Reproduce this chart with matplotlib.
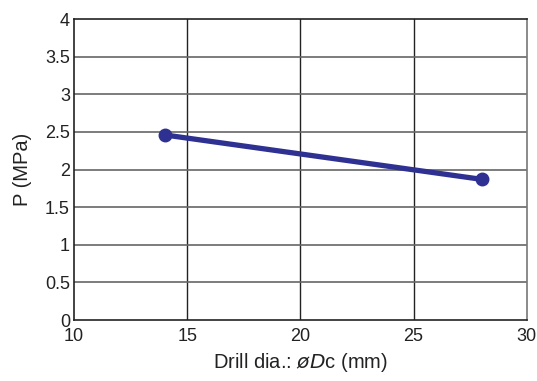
import matplotlib.pyplot as plt
import numpy as np

plt.rcParams['font.family'] = ['Liberation Sans', 'DejaVu Sans']

drill_dia = [14, 28]
pressure = [2.46, 1.87]
xticks = [10, 15, 20, 25, 30]
yticks = [0, 0.5, 1, 1.5, 2, 2.5, 3, 3.5, 4]

fig = plt.figure(figsize=(5.37, 3.81), dpi=100)
ax = fig.add_axes([0.138, 0.160, 0.843, 0.790])

for x in xticks[1:-1]:
    ax.axvline(x, color='#222222', lw=1.0, zorder=1)
for y in yticks[1:-1]:
    ax.axhline(y, color='#666666', lw=1.2, zorder=1)

ax.plot(drill_dia, pressure, color='#2e3192', lw=3.8, marker='o', ms=9, zorder=3)

ax.set_xlim(10, 30)
ax.set_ylim(0, 4)
ax.set_xticks(xticks)
ax.set_yticks(yticks)
ax.set_yticklabels(['0', '0.5', '1', '1.5', '2', '2.5', '3', '3.5', '4'])
ax.tick_params(length=0, labelsize=13, colors='#222222', pad=3)
ax.tick_params(axis='x', pad=6)
for s in ['left', 'bottom', 'top']:
    ax.spines[s].set_color('#222222')
ax.spines['right'].set_color('#777777')
for s in ax.spines.values():
    s.set_linewidth(1.2)

ax.set_xlabel('Drill dia.: $\\it{ø}$$\\it{D}$c (mm)', fontsize=14.5, color='#222222', labelpad=4)
ax.set_ylabel('P (MPa)', fontsize=14.5, color='#222222', labelpad=9)

fig.savefig('out.png', dpi=100)
